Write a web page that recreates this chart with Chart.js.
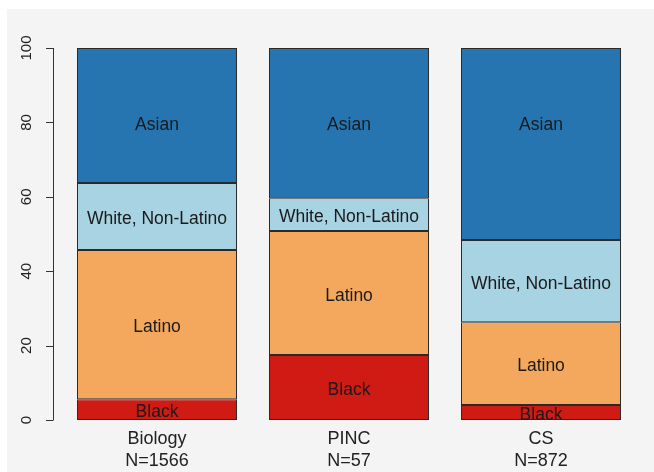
<!DOCTYPE html>
<html>
<head>
<meta charset="utf-8">
<script src="https://cdn.jsdelivr.net/npm/chart.js@4.4.0/dist/chart.umd.min.js"></script>
<style>
  html, body { margin: 0; padding: 0; background: #ffffff; }
  #wrap { position: absolute; left: 7px; top: 9px; width: 647px; height: 463px; background: #f4f4f4; }
</style>
</head>
<body>
<div id="wrap"><canvas id="chart" width="647" height="463"></canvas></div>
<script>
// Data (percent of students in each program)
const programs = ['Biology', 'PINC', 'CS'];
const sampleSizes = ['N=1566', 'N=57', 'N=872'];
const groups = ['Black', 'Latino', 'White, Non-Latino', 'Asian'];
const black = [5.6, 17.5, 4.0];
const latino = [40.1, 33.3, 22.3];
const white = [18.0, 8.8, 22.1];
const asian = [36.3, 40.4, 51.6];
const yTicks = [0, 20, 40, 60, 80, 100];

const colors = ['#d01a14', '#f4a85d', '#a7d3e2', '#2675b0'];
const series = [black, latino, white, asian];

// R-style left axis, drawn off the bars
const rAxis = {
  id: 'rAxis',
  afterDraw(chart) {
    const ctx = chart.ctx;
    const y = chart.scales.y;
    const x0 = chart.chartArea.left - 8;
    ctx.save();
    ctx.strokeStyle = '#333';
    ctx.lineWidth = 1;
    ctx.beginPath();
    ctx.moveTo(x0 + 0.5, y.getPixelForValue(0));
    ctx.lineTo(x0 + 0.5, y.getPixelForValue(100));
    yTicks.forEach(v => {
      const py = Math.round(y.getPixelForValue(v)) + 0.5;
      ctx.moveTo(x0 + 0.5, py);
      ctx.lineTo(x0 - 7, py);
    });
    ctx.stroke();
    ctx.fillStyle = '#222';
    ctx.font = '15px "Liberation Sans", Arial, sans-serif';
    ctx.textAlign = 'center';
    ctx.textBaseline = 'middle';
    yTicks.forEach(v => {
      ctx.save();
      ctx.translate(x0 - 26, y.getPixelForValue(v));
      ctx.rotate(-Math.PI / 2);
      ctx.fillText(String(v), 0, 0);
      ctx.restore();
    });
    ctx.restore();
  }
};

// group names inside each segment; the top group sits at the 80 mark
const segLabels = {
  id: 'segLabels',
  afterDatasetsDraw(chart) {
    const ctx = chart.ctx;
    const last = chart.data.datasets.length - 1;
    ctx.save();
    ctx.fillStyle = '#1a1a1a';
    ctx.font = '17.5px "Liberation Sans", Arial, sans-serif';
    ctx.textAlign = 'center';
    ctx.textBaseline = 'middle';
    chart.data.datasets.forEach((ds, i) => {
      chart.getDatasetMeta(i).data.forEach(bar => {
        const mid = i === last ? chart.scales.y.getPixelForValue(80) : (bar.y + bar.base) / 2;
        ctx.fillText(ds.label, bar.x, mid + 3);
      });
    });
    ctx.restore();
  }
};

new Chart(document.getElementById('chart'), {
  type: 'bar',
  data: {
    labels: programs.map((p, i) => [p, sampleSizes[i]]),
    datasets: groups.map((g, i) => ({
      label: g,
      data: series[i],
      backgroundColor: colors[i],
      borderColor: '#2a2a2a',
      borderWidth: 1,
      borderSkipped: false,
      barPercentage: 160 / 192,
      categoryPercentage: 1
    }))
  },
  options: {
    responsive: false,
    animation: false,
    layout: { padding: { top: 39, right: 17, left: 0, bottom: 0 } },
    plugins: { legend: { display: false }, tooltip: { enabled: false } },
    scales: {
      x: {
        stacked: true,
        grid: { display: false },
        border: { display: false },
        ticks: {
          color: '#222',
          padding: 1,
          font: { family: '"Liberation Sans", Arial, sans-serif', size: 18, lineHeight: 1.17 }
        },
        afterFit(scale) { scale.height = 52; }
      },
      y: {
        stacked: true,
        min: 0,
        max: 100,
        grid: { display: false },
        border: { display: false },
        ticks: { display: false },
        afterFit(scale) { scale.width = 54; }
      }
    }
  },
  plugins: [rAxis, segLabels]
});
</script>
</body>
</html>
